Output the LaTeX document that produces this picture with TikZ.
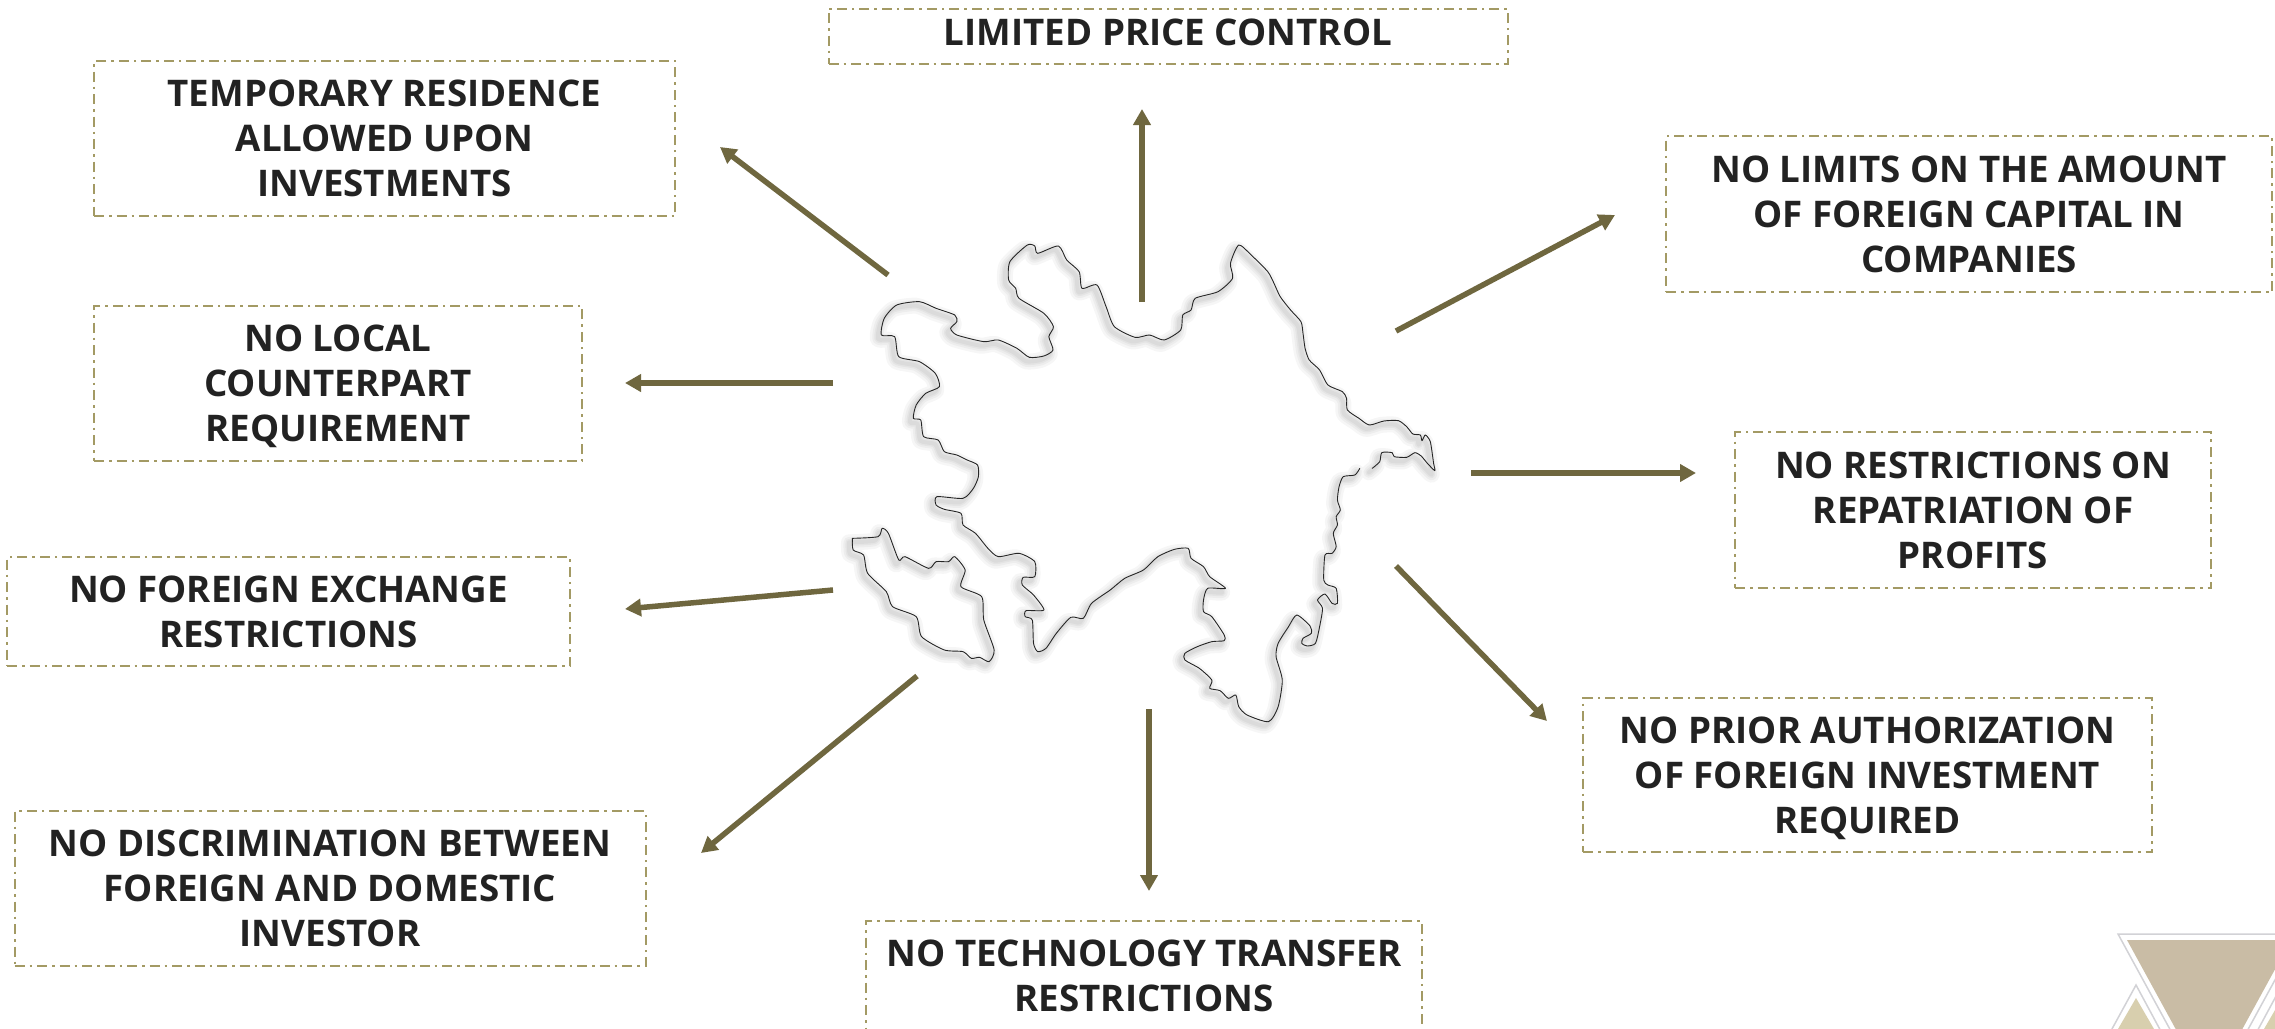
\documentclass[tikz,border=0pt]{standalone}
\usepackage{fontspec}
\setmainfont{Open Sans}
\usetikzlibrary{arrows.meta}
\definecolor{arrowcol}{HTML}{6F673F}
\definecolor{boxcol}{HTML}{A39A64}
\definecolor{textcol}{HTML}{222222}
\definecolor{tanbig}{HTML}{C9BCA5}
\definecolor{tansmall}{HTML}{D8CFAE}
\definecolor{logoline}{HTML}{D2D2D6}
\newcommand{\bodypath}{(1302,745)(1290,765)(1262,770)(1252,800)(1248,840)(1255,870)(1245,890)(1248,915)(1238,940)(1245,980)(1235,1000)(1218,1005)(1215,1080)(1225,1095)(1245,1105)(1248,1150)(1235,1150)(1218,1122)(1200,1140)(1212,1165)(1205,1220)(1195,1270)(1175,1278)(1162,1270)(1165,1255)(1185,1240)(1182,1218)(1150,1185)(1130,1220)(1105,1270)(1100,1310)(1115,1380)(1105,1460)(1082,1505)(1030,1485)(1010,1460)(1003,1425)(985,1435)(965,1412)(940,1405)(945,1380)(915,1345)(880,1320)(880,1300)(910,1280)(945,1265)(975,1262)(975,1245)(945,1190)(925,1175)(925,1140)(935,1105)(978,1105)(940,1070)(925,1040)(895,1015)(888,985)(855,988)(815,1010)(780,1050)(735,1075)(700,1110)(655,1150)(635,1195)(605,1192)(570,1240)(545,1285)(525,1295)(515,1270)(512,1200)(495,1190)(497,1172)(540,1170)(515,1125)(488,1095)(490,1072)(518,1070)(518,1025)(480,1000)(430,1010)(405,985)(375,940)(345,915)(340,880)(300,868)(280,855)(282,830)(345,835)(370,805)(382,770)(380,735)(355,720)(330,705)(300,695)(285,660)(250,650)(243,600)(225,595)(232,555)(255,520)(288,500)(278,460)(240,425)(190,410)(180,350)(148,345)(155,295)(185,255)(240,245)(280,265)(325,285)(330,305)(315,325)(330,345)(395,365)(430,360)(475,385)(505,412)(540,408)(562,390)(552,350)(563,320)(540,280)(480,235)(472,205)(455,180)(458,125)(500,75)(518,78)(525,100)(575,78)(595,120)(625,155)(632,205)(668,195)(690,260)(710,320)(760,352)(795,345)(830,360)(870,330)(875,285)(895,270)(905,235)(960,215)(995,175)(990,130)(1010,75)(1040,105)(1080,155)(1095,190)(1110,230)(1135,270)(1160,305)(1165,340)(1170,385)(1180,420)(1205,450)(1225,495)(1260,515)(1270,535)(1272,570)(1300,595)(1325,615)(1360,603)(1395,602)(1415,620)(1430,642)(1448,645)(1452,662)(1460,645)(1472,665)(1480,730)(1483,752)(1465,730)(1450,708)(1435,698)(1415,712)(1385,710)(1380,698)(1355,698)(1350,725)(1332,745)}
\newcommand{\islepath}{(78,955)(140,950)(150,925)(165,940)(190,1020)(205,1010)(262,1045)(280,1025)(310,1025)(325,1010)(350,1050)(340,1100)(390,1130)(395,1200)(420,1290)(408,1325)(385,1312)(365,1315)(345,1295)(300,1290)(245,1250)(232,1190)(175,1160)(160,1115)(115,1060)(105,1005)(80,990)(78,955)}
\tikzset{
  x=1pt,y=-1pt,
  infobox/.style={draw=boxcol,line width=2pt,dash pattern=on 10pt off 5pt on 2.5pt off 5pt,
    align=center,inner sep=0pt,text=textcol,text depth=0pt,
    font=\fontsize{36.7}{45}\selectfont\bfseries},
  linkarrow/.style={draw=arrowcol,line width=5.5pt,
    -{Triangle[length=16pt,width=17pt,fill=arrowcol]}},
  coast/.style={draw=black!85,line width=0.9pt,line join=round,line cap=round},
  mapframe/.style={x=0.41459pt,y=-0.33333pt,shift={(820pt,-220pt)}}
}
\begin{document}
\begin{tikzpicture}
\useasboundingbox (0,0) rectangle (2275,1028);
\fill[white] (0,0) rectangle (2275,1028);
% logo
\fill[tansmall] (2136,998) -- (2100,1060) -- (2172,1060) -- cycle;
\fill[tansmall] (2282,998) -- (2246,1060) -- (2318,1060) -- cycle;
\draw[logoline,line width=1.5pt] (2095,1060) -- (2136,985) -- (2171,1050);
\draw[logoline,line width=1.5pt] (2247,1050) -- (2282,985) -- (2323,1060);
\fill[white] (2118,934) -- (2300,934) -- (2209,1101) -- cycle;
\draw[logoline,line width=1.5pt] (2118,934) -- (2300,934) -- (2209,1101) -- cycle;
\fill[tanbig] (2127,940) -- (2291,940) -- (2209,1090) -- cycle;
% map
\begin{scope}[mapframe]
  \foreach \w in {16,11,7,4}{
    \draw[black,opacity=0.035,line width=\w pt,line join=round,line cap=round,shift={(-8,12)}]
      plot[smooth,tension=0.4] coordinates {\bodypath};
    \draw[black,opacity=0.035,line width=\w pt,line join=round,line cap=round,shift={(-8,12)}]
      plot[smooth,tension=0.4] coordinates {\islepath};
  }
  \draw[coast] plot[smooth,tension=0.4] coordinates {\bodypath};
  \draw[coast] plot[smooth,tension=0.4] coordinates {\islepath};
\end{scope}
% boxes
\node[infobox,minimum width=679pt,minimum height=55pt,text depth=8pt] (price) at (1168,36) {LIMITED PRICE CONTROL};
\node[infobox,minimum width=581pt,minimum height=155pt] (residence) at (384.5,138.5) {TEMPORARY RESIDENCE\\ALLOWED UPON\\INVESTMENTS};
\node[infobox,minimum width=488pt,minimum height=155pt] (local) at (338,383.5) {NO LOCAL\\COUNTERPART\\REQUIREMENT};
\node[infobox,minimum width=563pt,minimum height=109pt] (exchange) at (288.5,611.5) {NO FOREIGN EXCHANGE\\RESTRICTIONS};
\node[infobox,minimum width=631pt,minimum height=155pt] (discrimination) at (330,888.5) {NO DISCRIMINATION BETWEEN\\FOREIGN AND DOMESTIC\\INVESTOR};
\node[infobox,minimum width=556pt,minimum height=109pt] (technology) at (1144,975.5) {NO TECHNOLOGY TRANSFER\\RESTRICTIONS};
\node[infobox,minimum width=569pt,minimum height=154pt] (authorization) at (1867.5,775) {NO PRIOR AUTHORIZATION\\OF FOREIGN INVESTMENT\\REQUIRED};
\node[infobox,minimum width=476pt,minimum height=156pt] (repatriation) at (1973,510) {NO RESTRICTIONS ON\\REPATRIATION OF\\PROFITS};
\node[infobox,minimum width=606pt,minimum height=156pt] (limits) at (1969,214) {NO LIMITS ON THE AMOUNT\\OF FOREIGN CAPITAL IN\\COMPANIES};
% arrows
\coordinate (a1s) at (1142,302); \coordinate (a1e) at (1142,109);
\coordinate (a2s) at (888,275);  \coordinate (a2e) at (720,147);
\coordinate (a3s) at (833,383);  \coordinate (a3e) at (625,383);
\coordinate (a4s) at (833,590);  \coordinate (a4e) at (625,609);
\coordinate (a5s) at (917,676);  \coordinate (a5e) at (701,853);
\coordinate (a6s) at (1149,709); \coordinate (a6e) at (1149,891);
\coordinate (a7s) at (1396,566); \coordinate (a7e) at (1547,721);
\coordinate (a8s) at (1471,473); \coordinate (a8e) at (1696,473);
\coordinate (a9s) at (1396,331); \coordinate (a9e) at (1615,215);
\foreach \i in {1,...,9}{\draw[linkarrow] (a\i s) -- (a\i e);}
\end{tikzpicture}
\end{document}
